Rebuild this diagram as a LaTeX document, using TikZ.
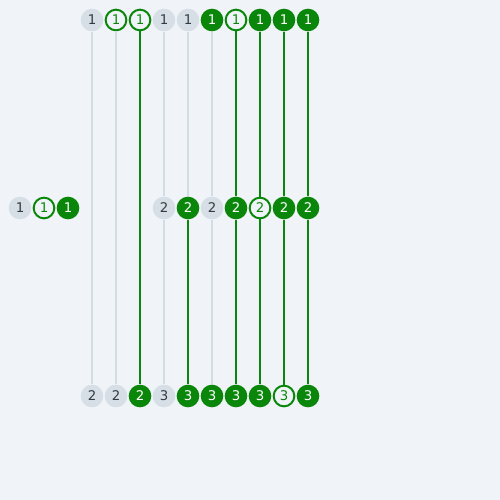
\documentclass[tikz,border=0pt]{standalone}
\usepackage{fontspec}
\setmainfont{DejaVu Sans}
\definecolor{bgc}{HTML}{F0F4F8}
\definecolor{grn}{HTML}{0A870A}
\definecolor{gryfill}{HTML}{D5DFE5}
\definecolor{gryline}{HTML}{D2DDE3}
\definecolor{txt}{HTML}{333A40}
\tikzset{
  base/.style={circle,minimum size=17pt,inner sep=0pt,font=\fontsize{10}{10}\selectfont},
  gn/.style={base,fill=gryfill,text=txt},
  fn/.style={base,fill=grn,text=white},
  on/.style={base,fill=bgc,draw=grn,line width=1.5pt,text=grn,minimum size=15.5pt},
  gl/.style={draw=gryline,line width=1.5pt},
  fl/.style={draw=grn,line width=1.5pt},
}
\begin{document}
\begin{tikzpicture}[x=0.75pt,y=-0.75pt]
\fill[bgc] (0,0) rectangle (500,500);
\useasboundingbox (0,0) rectangle (500,500);
% top row
\node[gn] (t1) at (92,20) {1};
\node[on] (t2) at (116,20) {1};
\node[on] (t3) at (140,20) {1};
\node[gn] (t4) at (164,20) {1};
\node[gn] (t5) at (188,20) {1};
\node[fn] (t6) at (212,20) {1};
\node[on] (t7) at (236,20) {1};
\node[fn] (t8) at (260,20) {1};
\node[fn] (t9) at (284,20) {1};
\node[fn] (t10) at (308,20) {1};
% middle row
\node[gn] (l1) at (20,208) {1};
\node[on] (l2) at (44,208) {1};
\node[fn] (l3) at (68,208) {1};
\node[gn] (m4) at (164,208) {2};
\node[fn] (m5) at (188,208) {2};
\node[gn] (m6) at (212,208) {2};
\node[fn] (m7) at (236,208) {2};
\node[on] (m8) at (260,208) {2};
\node[fn] (m9) at (284,208) {2};
\node[fn] (m10) at (308,208) {2};
% bottom row
\node[gn] (b1) at (92,396) {2};
\node[gn] (b2) at (116,396) {2};
\node[fn] (b3) at (140,396) {2};
\node[gn] (b4) at (164,396) {3};
\node[fn] (b5) at (188,396) {3};
\node[fn] (b6) at (212,396) {3};
\node[fn] (b7) at (236,396) {3};
\node[fn] (b8) at (260,396) {3};
\node[on] (b9) at (284,396) {3};
\node[fn] (b10) at (308,396) {3};
% connectors
\draw[gl] (t1) -- (b1);
\draw[gl] (t2) -- (b2);
\draw[fl] (t3) -- (b3);
\draw[gl] (t4) -- (m4);
\draw[gl] (m4) -- (b4);
\draw[gl] (t5) -- (m5);
\draw[fl] (m5) -- (b5);
\draw[gl] (t6) -- (m6);
\draw[gl] (m6) -- (b6);
\draw[fl] (t7) -- (m7);
\draw[fl] (m7) -- (b7);
\draw[fl] (t8) -- (m8);
\draw[fl] (m8) -- (b8);
\draw[fl] (t9) -- (m9);
\draw[fl] (m9) -- (b9);
\draw[fl] (t10) -- (m10);
\draw[fl] (m10) -- (b10);
\end{tikzpicture}
\end{document}
